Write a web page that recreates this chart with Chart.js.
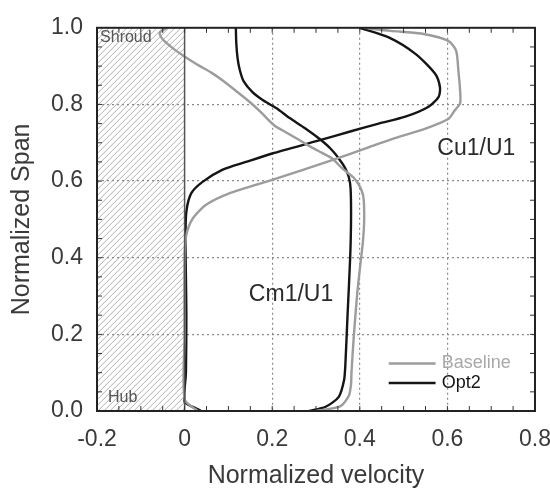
<!DOCTYPE html>
<html>
<head>
<meta charset="utf-8">
<script src="https://cdn.jsdelivr.net/npm/chart.js@4.4.1/dist/chart.umd.min.js"></script>
<style>
  html, body { margin: 0; padding: 0; background: #fff; }
  #wrap { width: 550px; height: 491px; }
</style>
</head>
<body>
<div id="wrap"><canvas id="spanChart" width="550" height="491"></canvas></div>
<script>
// Span / velocity profiles (span runs shroud -> hub)
const opt2CmSpan = [1.0, 0.96, 0.92, 0.89, 0.86, 0.832, 0.81, 0.79, 0.765, 0.738, 0.711, 0.685, 0.659, 0.635, 0.61, 0.58, 0.5, 0.4, 0.25, 0.12, 0.08, 0.037, 0.011, 0.0];
const opt2Cm     = [0.117, 0.118, 0.121, 0.126, 0.135, 0.155, 0.18, 0.21, 0.239, 0.275, 0.307, 0.333, 0.352, 0.366, 0.375, 0.379, 0.38, 0.378, 0.372, 0.367, 0.364, 0.352, 0.322, 0.284];

const opt2CuSpan = [1.0, 0.975, 0.932, 0.88, 0.845, 0.82, 0.794, 0.768, 0.75, 0.73, 0.706, 0.672, 0.65, 0.63, 0.598, 0.568, 0.52, 0.45, 0.35, 0.25, 0.1, 0.024, 0.01, 0.0];
const opt2Cu     = [0.40, 0.466, 0.527, 0.572, 0.583, 0.58, 0.557, 0.504, 0.443, 0.38, 0.307, 0.2, 0.14, 0.087, 0.041, 0.015, 0.004, 0.002, 0.003, 0.004, 0.003, 0.0, 0.02, 0.038];

const baseCmSpan = [1.0, 0.987, 0.97, 0.945, 0.922, 0.9, 0.883, 0.86, 0.832, 0.805, 0.78, 0.745, 0.727, 0.707, 0.688, 0.673, 0.659, 0.633, 0.61, 0.59, 0.56, 0.5, 0.44, 0.39, 0.305, 0.19, 0.1, 0.07, 0.04, 0.012, 0.0];
const baseCm     = [-0.04, -0.057, -0.05, -0.025, 0.004, 0.035, 0.061, 0.09, 0.121, 0.15, 0.174, 0.205, 0.232, 0.262, 0.29, 0.315, 0.337, 0.36, 0.385, 0.398, 0.408, 0.41, 0.407, 0.402, 0.394, 0.386, 0.381, 0.38, 0.375, 0.355, 0.3];

const baseCuSpan = [1.0, 0.992, 0.985, 0.966, 0.94, 0.889, 0.837, 0.803, 0.785, 0.762, 0.737, 0.712, 0.688, 0.652, 0.603, 0.568, 0.538, 0.503, 0.46, 0.4, 0.2, 0.03, 0.0];
const baseCu     = [0.41, 0.47, 0.54, 0.602, 0.62, 0.625, 0.629, 0.629, 0.617, 0.602, 0.55, 0.48, 0.42, 0.33, 0.2, 0.102, 0.049, 0.019, 0.004, 0.0, 0.0, 0.0, 0.03];

const seriesLabels = ["Baseline", "Opt2"];
const xTickValues = [-0.2, 0, 0.2, 0.4, 0.6, 0.8];
const yTickValues = [0.0, 0.2, 0.4, 0.6, 0.8, 1.0];

const GRAY = "#9c9c9c";
const BLACK = "#151515";
const TXT = "#3a3a3a";
const FONT = "'Liberation Sans', Arial, sans-serif";

function toPoints(vel, span) {
  return vel.map((v, i) => ({ x: v, y: span[i] }));
}

function lineSet(label, vel, span, color) {
  return {
    label,
    data: toPoints(vel, span),
    showLine: true,
    borderColor: color,
    backgroundColor: color,
    borderWidth: 2.4,
    pointRadius: 0,
    tension: 0.25,
  };
}

const isMajor = (v, list) => list.some((t) => Math.abs(t - v) < 1e-6);

// hatched wall region, frame, minor ticks and inline labels
const decorations = {
  id: "decorations",
  beforeDraw(chart) {
    const { ctx, chartArea: a, scales } = chart;
    const x0 = scales.x.getPixelForValue(0);
    ctx.save();
    ctx.beginPath();
    ctx.rect(a.left, a.top, x0 - a.left, a.bottom - a.top);
    ctx.clip();
    ctx.strokeStyle = "#b0b0b0";
    ctx.lineWidth = 1;
    const h = a.bottom - a.top;
    for (let s = a.left - h; s < x0 + 10; s += 6) {
      ctx.beginPath();
      ctx.moveTo(s, a.bottom);
      ctx.lineTo(s + h, a.top);
      ctx.stroke();
    }
    ctx.restore();
  },
  afterDatasetsDraw(chart) {
    const { ctx, chartArea: a, scales } = chart;
    const sx = scales.x, sy = scales.y;
    ctx.save();

    // wall line at zero velocity
    const x0 = sx.getPixelForValue(0);
    ctx.strokeStyle = "#555";
    ctx.lineWidth = 1.5;
    ctx.beginPath();
    ctx.moveTo(x0, a.top);
    ctx.lineTo(x0, a.bottom);
    ctx.stroke();

    // minor ticks every 0.05, pointing inward on all sides
    ctx.strokeStyle = "#333";
    ctx.lineWidth = 1;
    const tl = 5;
    for (let i = 1; i < 20; i++) {
      const px = sx.getPixelForValue(-0.2 + i * 0.05);
      ctx.beginPath();
      ctx.moveTo(px, a.bottom); ctx.lineTo(px, a.bottom - tl);
      ctx.moveTo(px, a.top); ctx.lineTo(px, a.top + tl);
      ctx.stroke();
      const py = sy.getPixelForValue(i * 0.05);
      ctx.beginPath();
      ctx.moveTo(a.left, py); ctx.lineTo(a.left + tl, py);
      ctx.moveTo(a.right, py); ctx.lineTo(a.right - tl, py);
      ctx.stroke();
    }

    // frame
    ctx.strokeStyle = "#222";
    ctx.lineWidth = 2;
    ctx.strokeRect(a.left, a.top, a.right - a.left, a.bottom - a.top);

    // inline labels
    ctx.textBaseline = "middle";
    ctx.textAlign = "left";
    ctx.fillStyle = "#555";
    ctx.font = "16px " + FONT;
    ctx.fillText("Shroud", sx.getPixelForValue(-0.193), sy.getPixelForValue(0.974));
    ctx.fillText("Hub", sx.getPixelForValue(-0.175), sy.getPixelForValue(0.034));

    ctx.fillStyle = "#2a2a2a";
    ctx.font = "23px " + FONT;
    ctx.textAlign = "center";
    ctx.fillText("Cu1/U1", sx.getPixelForValue(0.666), sy.getPixelForValue(0.684));
    ctx.fillText("Cm1/U1", sx.getPixelForValue(0.243), sy.getPixelForValue(0.303));

    // legend
    const colors = [GRAY, BLACK];
    const rows = [0.124, 0.073];
    ctx.font = "18px " + FONT;
    ctx.textAlign = "left";
    seriesLabels.forEach((lab, i) => {
      const y = sy.getPixelForValue(rows[i]);
      ctx.strokeStyle = colors[i];
      ctx.lineWidth = 2.4;
      ctx.beginPath();
      ctx.moveTo(sx.getPixelForValue(0.466), y);
      ctx.lineTo(sx.getPixelForValue(0.573), y);
      ctx.stroke();
      ctx.fillStyle = i === 0 ? "#a8a8a8" : BLACK;
      ctx.fillText(lab, sx.getPixelForValue(0.587), y);
    });
    ctx.restore();
  },
};

new Chart(document.getElementById("spanChart"), {
  type: "scatter",
  data: {
    datasets: [
      lineSet("Baseline Cm", baseCm, baseCmSpan, GRAY),
      lineSet("Baseline Cu", baseCu, baseCuSpan, GRAY),
      lineSet("Opt2 Cm", opt2Cm, opt2CmSpan, BLACK),
      lineSet("Opt2 Cu", opt2Cu, opt2CuSpan, BLACK),
    ],
  },
  options: {
    responsive: false,
    animation: false,
    layout: { padding: { top: 25, right: 15, left: 0, bottom: 0 } },
    plugins: { legend: { display: false }, tooltip: { enabled: false } },
    scales: {
      x: {
        type: "linear",
        min: -0.2,
        max: 0.8,
        afterBuildTicks: (s) => { s.ticks = xTickValues.map((v) => ({ value: v })); },
        afterFit: (s) => { s.height = 80; s.paddingLeft = 0; s.paddingRight = 0; },
        ticks: {
          color: TXT,
          font: { family: FONT, size: 23 },
          padding: 15,
          callback: (v) => (Math.abs(v) < 1e-9 ? "0" : Number(v).toFixed(1)),
        },
        grid: {
          drawTicks: false,
          lineWidth: 1.2,
          color: (c) => {
            const v = c.tick ? c.tick.value : null;
            if (v === null || isMajor(v, [-0.2, 0, 0.8])) return "rgba(0,0,0,0)";
            return "#8a8a8a";
          },
        },
        border: { display: false, dash: [2, 3] },
        title: {
          display: true,
          text: "Normalized velocity",
          color: TXT,
          font: { family: FONT, size: 25 },
          padding: { top: 0, bottom: 0 },
        },
      },
      y: {
        type: "linear",
        min: 0,
        max: 1,
        afterBuildTicks: (s) => { s.ticks = yTickValues.map((v) => ({ value: v })); },
        afterFit: (s) => { s.width = 97; },
        ticks: {
          color: TXT,
          font: { family: FONT, size: 23 },
          padding: 14,
          callback: (v) => Number(v).toFixed(1),
        },
        grid: {
          drawTicks: false,
          lineWidth: 1.2,
          color: (c) => {
            const v = c.tick ? c.tick.value : null;
            if (v === null || isMajor(v, [0, 1])) return "rgba(0,0,0,0)";
            return "#8a8a8a";
          },
        },
        border: { display: false, dash: [2, 3] },
        title: {
          display: true,
          text: "Normalized Span",
          color: TXT,
          font: { family: FONT, size: 25 },
          padding: { top: 7, bottom: 0 },
        },
      },
    },
  },
  plugins: [decorations],
});
</script>
</body>
</html>
